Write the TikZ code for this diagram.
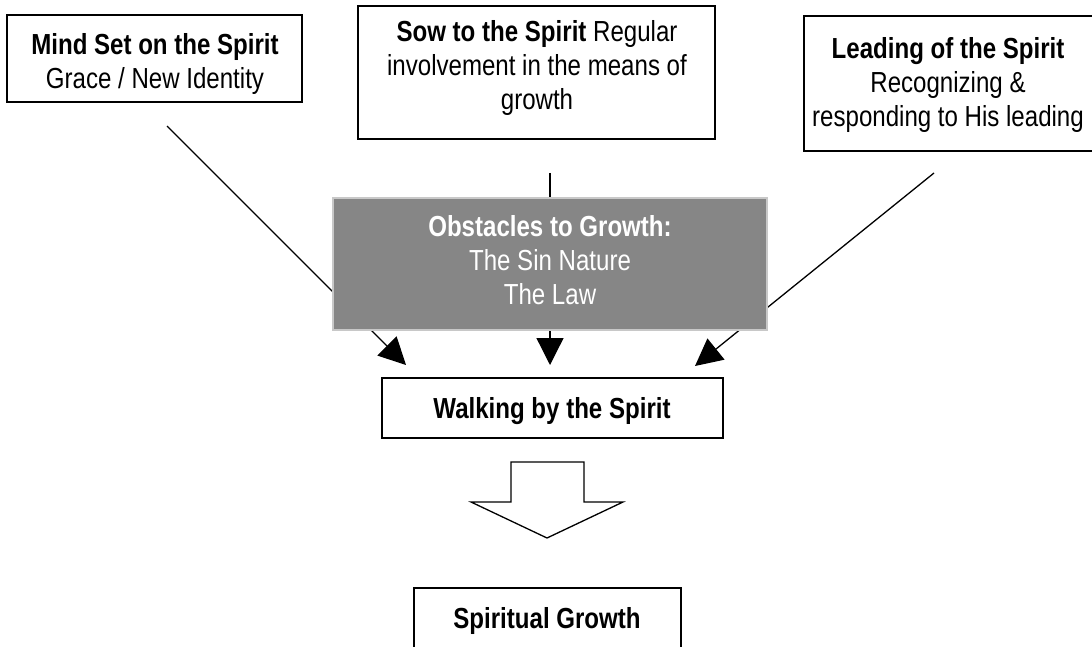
\documentclass[tikz,border=0pt]{standalone}
\usepackage{fontspec}
\setmainfont[FakeStretch=0.83]{Liberation Sans}
\usetikzlibrary{arrows.meta}
\definecolor{obsgray}{HTML}{868686}
\definecolor{obsedge}{HTML}{C8C8C8}
\begin{document}
\begin{tikzpicture}[x=1pt,y=-1pt,
  every node/.style={inner sep=0pt, outer sep=0pt},
  txt/.style={font=\fontsize{29}{34}\selectfont, align=center, anchor=base},
  wbox/.style={draw=black, line width=1.5pt, fill=white},
  conn/.style={line width=1.3pt, -{Triangle[length=27pt,width=27pt]}},
]
\useasboundingbox (0,0) rectangle (1092,647);
\fill[white] (0,0) rectangle (1092,647);

% start and tip points of connectors
\coordinate (s1) at (167,126);
\coordinate (t1) at (406,365);
\coordinate (s2) at (550,173);
\coordinate (t2) at (550,365);
\coordinate (s3) at (934,173);
\coordinate (t3) at (695,366);

\draw[conn] (s1) -- (t1);
\draw[conn] (s2) -- (t2);
\draw[conn] (s3) -- (t3);

% boxes
\node[wbox, minimum width=295pt, minimum height=87pt] (mind) at (154.5,58.5) {};
\node[wbox, minimum width=357pt, minimum height=133pt] (sow) at (536.5,72.5) {};
\node[fill=white, minimum width=306pt, minimum height=135pt] (lead) at (957,83.5) {};
\draw[line width=1.5pt, line join=miter]
  (lead.north east) -- (lead.north west) -- (lead.south west) -- (lead.south east);
\node[fill=obsgray, draw=obsedge, line width=1.5pt,
  minimum width=434pt, minimum height=132pt] (obs) at (550,264) {};
\node[wbox, minimum width=341pt, minimum height=60pt] (walk) at (552.5,408) {};

\draw[line width=1.3pt, fill=white, line join=miter]
  (511,462) -- (584,462) -- (584,502) -- (623,502) -- (547,538)
  -- (471,502) -- (511,502) -- cycle;

\node[wbox, minimum width=267pt, minimum height=60pt] (growth) at (547.5,618) {};

% texts (anchored at the baseline of their last line)
\node[txt] (mindtext) at (155,89)
  {\textbf{Mind Set on the Spirit}\\Grace / New Identity};
\node[txt] (sowtext) at (537,110)
  {\textbf{Sow to the Spirit} Regular\\involvement in the means of\\growth};
\node[txt] (leadtext) at (948,127)
  {\textbf{Leading of the Spirit}\\Recognizing \&\\responding to His leading};
\node[txt, text=white] (obstext) at (550,304)
  {\textbf{Obstacles to Growth:}\\The Sin Nature\\The Law};
\node[txt] (walktext) at (552,418) {\textbf{Walking by the Spirit}};
\node[txt] (growthtext) at (547,628) {\textbf{Spiritual Growth}};
\end{tikzpicture}
\end{document}
